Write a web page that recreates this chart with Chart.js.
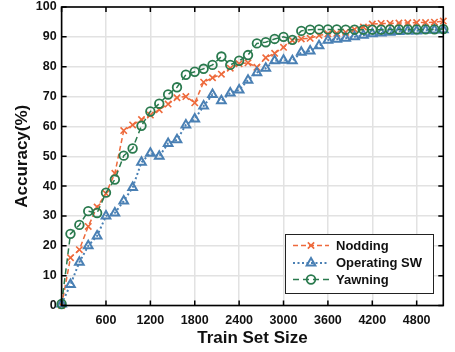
<!DOCTYPE html>
<html>
<head>
<meta charset="utf-8">
<script src="https://cdn.jsdelivr.net/npm/chart.js@4/dist/chart.umd.min.js"></script>
<style>
  html, body { margin: 0; padding: 0; background: #fff; }
  #wrap { width: 455px; height: 352px; }
</style>
</head>
<body>
<div id="wrap"><canvas id="chart" width="455" height="352"></canvas></div>
<script>
// Training-set sizes (samples)
const trainSizes = [0, 120, 240, 360, 480, 600, 720, 840, 960, 1080, 1200, 1320, 1440, 1560, 1680,
  1800, 1920, 2040, 2160, 2280, 2400, 2520, 2640, 2760, 2880, 3000, 3120, 3240, 3360, 3480,
  3600, 3720, 3840, 3960, 4080, 4200, 4320, 4440, 4560, 4680, 4800, 4920, 5040, 5160];

// Accuracy (%) per class
const nodding = [0, 16, 18.7, 26.5, 33, 37.5, 44.3, 58.6, 60.5, 62.3, 63.8, 65.6, 67.5, 69.6, 70,
  67.9, 74.8, 76.3, 77.5, 79.5, 81, 81.3, 79.8, 83, 84.5, 86.5, 88.8, 89.3, 89.5, 90.5,
  91, 91.2, 91.5, 92.5, 93.3, 94.3, 94.5, 94.5, 94.6, 94.7, 94.8, 94.8, 94.9, 95.3];
const operatingSW = [0.5, 7, 14.5, 20, 23.3, 30, 31, 35, 39.5, 48, 51, 50, 54.3, 55.5, 60.5,
  62.5, 66.8, 70.7, 68.6, 71.2, 72.2, 75.5, 78, 79.5, 82, 82.2, 82, 84.8, 85.3, 87,
  88.9, 89.2, 89.5, 90, 90.5, 91, 91.3, 91.5, 91.8, 92, 92, 92.2, 92.3, 92.4];
const yawning = [0.5, 24, 27, 31.6, 31, 37.8, 42.2, 50.2, 52.6, 60.2, 65, 67.6, 70.7, 73.1, 77.3,
  78.3, 79.3, 80.6, 83.4, 80.6, 82, 83.9, 87.8, 88.2, 89.3, 90, 89, 92, 92.4, 92.5,
  92.5, 92.5, 92.4, 92.4, 92.4, 92.4, 92.4, 92.5, 92.5, 92.5, 92.5, 92.5, 92.5, 92.6];

const seriesNames = ['Nodding', 'Operating SW', 'Yawning'];
// Tick positions; 0 on the x axis carries no label
const xTicks = [0, 600, 1200, 1800, 2400, 3000, 3600, 4200, 4800];
const yTicks = [0, 10, 20, 30, 40, 50, 60, 70, 80, 90, 100];

const ORANGE = '#EE6A3C';
const BLUE = '#4A80B4';
const GREEN = '#2A7A4E';
const FONT = "'Liberation Sans', Arial, sans-serif";

function toPoints(ys) { return ys.map((y, i) => ({ x: trainSizes[i], y })); }

const datasets = [
  { label: seriesNames[0], data: toPoints(nodding), borderColor: ORANGE, borderWidth: 1.5,
    borderDash: [5, 3], pointStyle: 'crossRot', pointRadius: 4.5, pointBorderWidth: 1.6,
    pointBorderColor: ORANGE, pointBackgroundColor: 'rgba(0,0,0,0)', order: 3 },
  { label: seriesNames[1], data: toPoints(operatingSW), borderColor: BLUE, borderWidth: 2,
    borderDash: [2, 2.5], pointStyle: 'triangle', pointRadius: 5, pointBorderWidth: 2,
    pointBorderColor: BLUE, pointBackgroundColor: 'rgba(0,0,0,0)', order: 2 },
  { label: seriesNames[2], data: toPoints(yawning), borderColor: GREEN, borderWidth: 1.5,
    borderDash: [6, 4], pointStyle: 'circle', pointRadius: 4.3, pointBorderWidth: 1.8,
    pointBorderColor: GREEN, pointBackgroundColor: 'rgba(0,0,0,0)', order: 1 }
];

// Axes box with inward tick marks on all four sides
const boxPlugin = {
  id: 'boxTicks',
  afterDatasetsDraw(chart) {
    const { ctx, chartArea: a, scales } = chart;
    const len = 5;
    ctx.save();
    ctx.strokeStyle = '#000';
    ctx.lineWidth = 1.5;
    ctx.beginPath();
    scales.x.ticks.forEach(t => {
      const px = scales.x.getPixelForValue(t.value);
      ctx.moveTo(px, a.bottom); ctx.lineTo(px, a.bottom - len);
      ctx.moveTo(px, a.top); ctx.lineTo(px, a.top + len);
    });
    scales.y.ticks.forEach(t => {
      const py = scales.y.getPixelForValue(t.value);
      ctx.moveTo(a.left, py); ctx.lineTo(a.left + len, py);
      ctx.moveTo(a.right, py); ctx.lineTo(a.right - len, py);
    });
    ctx.stroke();
    ctx.lineWidth = 1.6;
    ctx.strokeRect(a.left, a.top, a.right - a.left, a.bottom - a.top);
    ctx.restore();
  }
};

// Boxed legend in the lower right of the plot
const legendPlugin = {
  id: 'boxLegend',
  afterDraw(chart) {
    const { ctx } = chart;
    const x0 = 285, y0 = 234, w = 148, h = 59;
    ctx.save();
    ctx.fillStyle = '#fff';
    ctx.fillRect(x0, y0, w, h);
    ctx.strokeStyle = '#222';
    ctx.lineWidth = 1;
    ctx.strokeRect(x0 + 0.5, y0 + 0.5, w, h);
    const rows = [245.5, 263, 279.5];
    chart.data.datasets.forEach((ds, i) => {
      const y = rows[i];
      ctx.save();
      ctx.strokeStyle = ds.borderColor;
      ctx.lineWidth = ds.borderWidth;
      ctx.setLineDash(ds.borderDash);
      ctx.beginPath();
      ctx.moveTo(293, y); ctx.lineTo(329, y);
      ctx.stroke();
      ctx.restore();
      ctx.save();
      ctx.strokeStyle = ds.pointBorderColor;
      ctx.fillStyle = ds.pointBackgroundColor;
      ctx.lineWidth = ds.pointBorderWidth;
      Chart.helpers.drawPoint(ctx, { pointStyle: ds.pointStyle, radius: ds.pointRadius, rotation: 0, borderWidth: ds.pointBorderWidth }, 311, y);
      ctx.restore();
      ctx.fillStyle = '#111';
      ctx.font = 'bold 13px ' + FONT;
      ctx.textAlign = 'left';
      ctx.textBaseline = 'middle';
      ctx.fillText(ds.label, 336, y + 0.5);
    });
    ctx.restore();
  }
};

new Chart(document.getElementById('chart'), {
  type: 'line',
  data: { datasets },
  options: {
    responsive: false,
    animation: false,
    devicePixelRatio: 1,
    clip: false,
    layout: { padding: { top: 3, right: 11.7, left: 0, bottom: 0 } },
    plugins: { legend: { display: false }, tooltip: { enabled: false } },
    scales: {
      x: {
        type: 'linear', min: 0, max: 5160,
        grid: { color: '#E2E2E2', lineWidth: 1.5, drawTicks: false },
        border: { display: false },
        afterBuildTicks(s) { s.ticks = xTicks.map(v => ({ value: v })); },
        ticks: {
          padding: 8, color: '#111', maxRotation: 0, autoSkip: false,
          font: { family: FONT, size: 12.5, weight: 'bold' },
          callback: v => (v > 0 ? String(v) : '')
        },
        title: { display: true, text: 'Train Set Size', color: '#111',
          font: { family: FONT, size: 17, weight: 'bold', lineHeight: 1 },
          padding: { top: 0, bottom: 5 } },
        afterFit(s) { s.height = 46.5; s.paddingLeft = 0; s.paddingRight = 0; }
      },
      y: {
        min: 0, max: 100,
        grid: { color: '#E2E2E2', lineWidth: 1.5, drawTicks: false },
        border: { display: false },
        afterBuildTicks(s) { s.ticks = yTicks.map(v => ({ value: v })); },
        ticks: { padding: 5, color: '#111', autoSkip: false,
          font: { family: FONT, size: 12.5, weight: 'bold' } },
        title: { display: true, text: 'Accuracy(%)', color: '#111',
          font: { family: FONT, size: 17, weight: 'bold', lineHeight: 1 },
          padding: { top: 13.5, bottom: 0 } },
        afterFit(s) { s.width = 61.6; s.paddingTop = 0; s.paddingBottom = 0; }
      }
    }
  },
  plugins: [boxPlugin, legendPlugin]
});
</script>
</body>
</html>
